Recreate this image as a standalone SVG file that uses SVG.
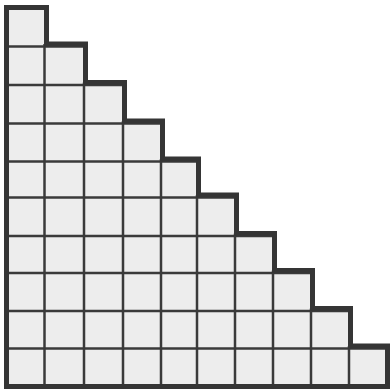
<svg xmlns="http://www.w3.org/2000/svg" width="390" height="390" viewBox="0 0 390 390">
<style>
.fill{fill:#ededed;stroke:none}
.thin{stroke:#3a3a3a;stroke-width:2.5;fill:none}
.thick{stroke:#353535;stroke-width:5;fill:none;stroke-linejoin:miter}
</style>
<rect width="390" height="390" fill="#ffffff"/>
<path class="fill" d="M 6.5 386.5 V 7.5 H 46.5 V 44 H 85.5 V 82.5 H 124.5 V 121 H 162.5 V 159 H 198.5 V 195 H 236.5 V 233.5 H 274.5 V 270.5 H 312.5 V 308.5 H 350.5 V 346 H 387.5 V 386.5 Z"/>
<g id="grid-lines">
<line class="thin" x1="6.5" y1="46.5" x2="85" y2="46.5"/>
<line class="thin" x1="6.5" y1="85" x2="124" y2="85"/>
<line class="thin" x1="6.5" y1="123.5" x2="162" y2="123.5"/>
<line class="thin" x1="6.5" y1="161.5" x2="198" y2="161.5"/>
<line class="thin" x1="6.5" y1="197.5" x2="236" y2="197.5"/>
<line class="thin" x1="6.5" y1="236" x2="274" y2="236"/>
<line class="thin" x1="6.5" y1="273" x2="312" y2="273"/>
<line class="thin" x1="6.5" y1="311" x2="350" y2="311"/>
<line class="thin" x1="6.5" y1="348.5" x2="387" y2="348.5"/>
<line class="thin" x1="44.5" y1="44" x2="44.5" y2="386.5"/>
<line class="thin" x1="84" y1="82.5" x2="84" y2="386.5"/>
<line class="thin" x1="123" y1="121" x2="123" y2="386.5"/>
<line class="thin" x1="161" y1="159" x2="161" y2="386.5"/>
<line class="thin" x1="197" y1="195" x2="197" y2="386.5"/>
<line class="thin" x1="235" y1="233.5" x2="235" y2="386.5"/>
<line class="thin" x1="273" y1="270.5" x2="273" y2="386.5"/>
<line class="thin" x1="311" y1="308.5" x2="311" y2="386.5"/>
<line class="thin" x1="349" y1="346" x2="349" y2="386.5"/>
</g>
<path id="outline" class="thick" d="M 6.5 386.5 V 7.5 H 46.5 V 44 H 85.5 V 82.5 H 124.5 V 121 H 162.5 V 159 H 198.5 V 195 H 236.5 V 233.5 H 274.5 V 270.5 H 312.5 V 308.5 H 350.5 V 346 H 387.5 V 386.5 Z"/>
</svg>
